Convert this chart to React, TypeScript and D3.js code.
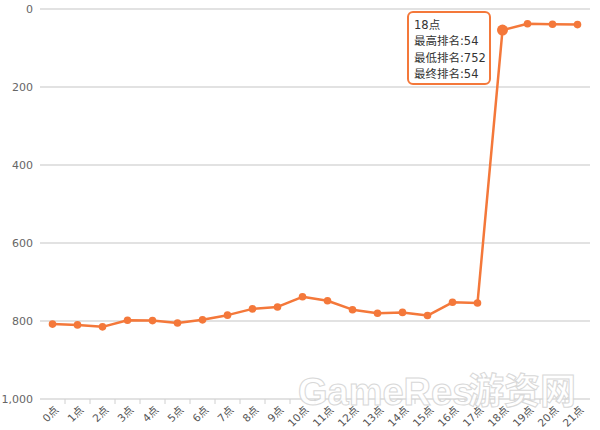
import React from "react";
import * as d3 from "d3";

const categories = ["0点","1点","2点","3点","4点","5点","6点","7点","8点","9点","10点","11点","12点","13点","14点","15点","16点","17点","18点","19点","20点","21点"];
const ranks = [808,810,815,798,799,805,797,785,769,764,738,748,771,780,778,786,752,754,54,38,39,40];
const yTicks = [0,200,400,600,800,1000];
const tooltipLines = ["18点","最高排名:54","最低排名:752","最终排名:54"];
const hoverIndex = 18;

const W = 600, H = 430;
const left = 40, right = 590, top = 9, bottom = 399;
const color = "#f4783a";

export default function App() {
  const x = d3.scaleBand<string>().domain(categories).range([left, right]).padding(0);
  const y = d3.scaleLinear().domain([0, 1000]).range([top, bottom]);
  const cx = (c: string) => (x(c) as number) + x.bandwidth() / 2;
  const line = d3.line<number>().x((_, i) => cx(categories[i])).y(d => y(d));
  const fmt = d3.format(",");
  return (
    <svg width={W} height={H} style={{ position: "absolute", left: 0, top: 0, fontFamily: "'DejaVu Sans', 'Noto Sans CJK SC', sans-serif" }}>
      <rect width={W} height={H} fill="#fff" />
      {yTicks.map(t => (
        <g key={t}>
          <line x1={left} x2={right} y1={y(t)} y2={y(t)} stroke="#d9d9d9" strokeWidth={1.5} />
          <text x={33} y={y(t)} dy="0.35em" textAnchor="end" fontSize={11} fill="#666">{fmt(t)}</text>
        </g>
      ))}
      {categories.map((c, i) => (
        <g key={c}>
          {i > 0 && <line x1={x(c) as number} x2={x(c) as number} y1={bottom} y2={bottom + 5} stroke="#d0d0d0" />}
          <text transform={`translate(${cx(c) + 4},${bottom + 9}) rotate(-45)`} textAnchor="end" dy="0.35em" fontSize={10.5} fill="#555">{c}</text>
        </g>
      ))}
      <g opacity={0.9}>
        <text x={298} y={405} fontSize={38} fontWeight="bold" fill="#fff" stroke="#d4d4d4" strokeWidth={1} fontFamily="Arial, 'Liberation Sans', sans-serif">GameRes</text>
        <text x={468} y={404} fontSize={36} fontWeight="bold" fill="#fff" stroke="#d4d4d4" strokeWidth={1} fontFamily="'Noto Sans CJK SC', sans-serif">游资网</text>
      </g>
      <path d={line(ranks) || ""} fill="none" stroke={color} strokeWidth={2.5} strokeLinejoin="round" />
      {ranks.map((v, i) => (
        <circle key={i} cx={cx(categories[i])} cy={y(v)} r={i === hoverIndex ? 5.5 : 3.8} fill={color} />
      ))}
      <g>
        <rect x={408} y={12} width={82} height={72} rx={5} fill="#fff" fillOpacity={0.92} stroke={color} strokeWidth={2} />
        {tooltipLines.map((l, i) => (
          <text key={i} x={414} y={25 + i * 16.3} dy="0.35em" fontSize={11.5} fill="#333">{l}</text>
        ))}
      </g>
    </svg>
  );
}
